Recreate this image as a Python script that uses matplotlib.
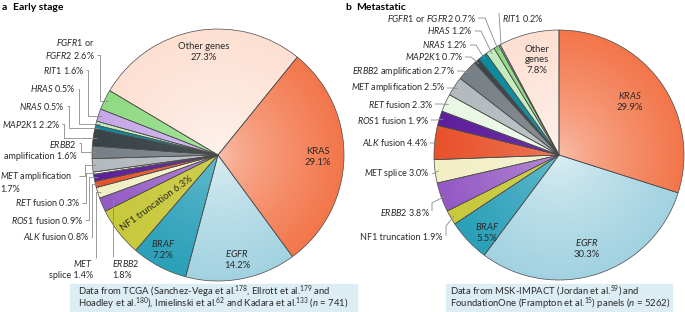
import numpy as np
import matplotlib.pyplot as plt
from matplotlib.colors import to_rgb
from matplotlib.patches import Rectangle

plt.rcParams['font.family'] = 'Lato'
plt.rcParams['mathtext.fontset'] = 'custom'
plt.rcParams['mathtext.rm'] = 'Lato'
plt.rcParams['mathtext.it'] = 'Lato:italic'
plt.rcParams['mathtext.bf'] = 'Lato:bold'

# data (percent of patients)
genes_a = ['KRAS', 'EGFR', 'BRAF', 'NF1 truncation', 'ERBB2', 'MET splice', 'ALK fusion',
           'ROS1 fusion', 'RET fusion', 'MET amplification', 'ERBB2 amplification', 'MAP2K1',
           'NRAS', 'HRAS', 'RIT1', 'FGFR1 or FGFR2', 'Other genes']
pct_a = [29.1, 14.2, 7.2, 6.3, 1.8, 1.4, 0.8, 0.9, 0.3, 1.7, 1.6, 2.2, 0.5, 0.5, 1.6, 2.6, 27.3]

genes_b = ['KRAS', 'EGFR', 'BRAF', 'NF1 truncation', 'ERBB2', 'MET splice', 'ALK fusion',
           'ROS1 fusion', 'RET fusion', 'MET amplification', 'ERBB2 amplification', 'MAP2K1',
           'NRAS', 'HRAS', 'FGFR1 or FGFR2', 'RIT1', 'Other genes']
pct_b = [29.9, 30.3, 5.5, 1.9, 3.8, 3.0, 4.4, 1.9, 2.3, 2.5, 2.7, 0.7, 1.2, 1.2, 0.7, 0.2, 7.8]

# colour, lightening towards the centre
colors = {
    'KRAS': ('#f3764a', 0.55), 'EGFR': ('#a2d2e1', 0.65), 'BRAF': ('#2aa0b9', 0.3),
    'NF1 truncation': ('#c9c93e', 0.1), 'ERBB2': ('#9459c4', 0.35), 'MET splice': ('#f2efc4', 0.3),
    'ALK fusion': ('#e8522a', 0.25), 'ROS1 fusion': ('#5e1f9c', 0.1), 'RET fusion': ('#eaf7e4', 0.3),
    'MET amplification': ('#b3b9bd', 0.2), 'ERBB2 amplification': ('#778086', 0.15),
    'MAP2K1': ('#3a4347', 0.08), 'NRAS': ('#0a8a9f', 0.1), 'HRAS': ('#c3ebbd', 0.25),
    'RIT1': ('#c6a8e8', 0.25), 'FGFR1 or FGFR2': ('#8fdb83', 0.25), 'Other genes': ('#fde0d2', 0.65),
}

SYMS = {'KRAS', 'EGFR', 'BRAF', 'ERBB2', 'MET', 'ALK', 'ROS1', 'RET', 'MAP2K1', 'NRAS',
        'HRAS', 'RIT1', 'FGFR1', 'FGFR2'}

H = 312
fig = plt.figure(figsize=(6.85, 3.12), dpi=100)
ax = fig.add_axes([0, 0, 1, 1])
FS = 6.5
TC = '#2a2a2a'


def label(gene, pct, brk=None):
    words = gene.split()
    out = [r'$\mathit{%s}$' % w if w in SYMS else w for w in words]
    txt = ''
    for i, w in enumerate(out):
        txt += w
        if i < len(out) - 1:
            txt += '\n' if brk == i + 1 else ' '
    return txt + ('\n' if brk == len(out) else ' ') + '%.1f%%' % pct


def draw_pie(genes, pct, cx, cy, r, start):
    cy = H - cy
    wedges, _ = ax.pie(pct, center=(cx, cy), radius=r, startangle=start, counterclock=False,
                       colors=[colors[g][0] for g in genes],
                       wedgeprops=dict(edgecolor='#4a4a4a', linewidth=0.5))
    n = 200
    yy, xx = np.mgrid[-1:1:n * 1j, -1:1:n * 1j]
    t = np.clip(np.sqrt(xx ** 2 + yy ** 2), 0, 1)[..., None] ** 0.7
    for w, g in zip(wedges, genes):
        base = np.array(to_rgb(colors[g][0]))
        inner = base + (1 - base) * colors[g][1]
        img = inner * (1 - t) + base * t
        im = ax.imshow(img, extent=[cx - r, cx + r, cy - r, cy + r], origin='lower',
                       interpolation='bilinear', zorder=1.5)
        im.set_clip_path(w)
        w.set_facecolor('none')
        w.set_zorder(2)
    # mid angles
    ang = {}
    a0 = start
    for g, p in zip(genes, pct):
        a1 = a0 - p * 3.6
        ang[g] = np.deg2rad((a0 + a1) / 2)
        a0 = a1
    return ang


def leaders(genes, pct, ang, cx, cy, r, layout, bracket):
    cy = H - cy
    for g, p in zip(genes, pct):
        if g not in layout:
            continue
        L = layout[g]
        x, y = L['xy']
        ax.text(x, H - y, label(g, p, L.get('brk')), ha=L['ha'], ma=L['ha'], va='center',
                fontsize=FS, color=TC, linespacing=1.2, zorder=5)
        frac = L.get('frac', 0.97)
        tx = cx + frac * r * np.cos(ang[g])
        ty = cy + frac * r * np.sin(ang[g])
        pts = [(px, H - py) for px, py in L['pts']]
        if bracket:
            pts += [(pts[-1][0], ty)]
        pts += [(tx, ty)]
        xs, ys = zip(*pts)
        ax.plot(xs, ys, color='#8a8a8a', lw=0.6, zorder=3, solid_capstyle='butt')


# ---- a: early stage
ang_a = draw_pie(genes_a, pct_a, 218, 155, 126, 51)
layout_a = {
    'FGFR1 or FGFR2': dict(xy=(95, 49), ha='right', brk=2, pts=[(97, 55), (100, 55)]),
    'RIT1': dict(xy=(84, 70), ha='right', pts=[(86, 70), (88, 70)]),
    'HRAS': dict(xy=(76, 89), ha='right', pts=[(78, 89), (79, 89)]),
    'NRAS': dict(xy=(65, 106), ha='right', pts=[(67, 106), (69, 106)]),
    'MAP2K1': dict(xy=(60, 124), ha='right', pts=[(62, 124), (64, 124)]),
    'ERBB2 amplification': dict(xy=(77, 150), ha='right', brk=1, pts=[(79, 143), (81, 143)]),
    'MET amplification': dict(xy=(0, 182), ha='left', brk=2, pts=[(79, 176), (85, 176)]),
    'RET fusion': dict(xy=(80, 203), ha='right', pts=[(82, 203), (86, 203)]),
    'ROS1 fusion': dict(xy=(83, 220), ha='right', pts=[(85, 220), (89, 220)]),
    'ALK fusion': dict(xy=(89, 237), ha='right', pts=[(91, 237), (92.5, 237)]),
    'MET splice': dict(xy=(93, 269), ha='right', brk=1, pts=[(96, 258)]),
    'ERBB2': dict(xy=(112, 269), ha='left', brk=1, pts=[(113, 257)], frac=0.9),
}
leaders(genes_a, pct_a, ang_a, 218, 155, 126, layout_a, True)

inside_a = {'Other genes': (204, 52, 0, False), 'KRAS': (318, 157, 0, False),
            'EGFR': (237, 259, 0, True), 'BRAF': (163, 249, 0, True),
            'NF1 truncation': (157, 203, 36, False)}
for g, p in zip(genes_a, pct_a):
    if g in inside_a:
        x, y, rot, br = inside_a[g]
        if g == 'NF1 truncation':
            s = '%s %.1f%%' % (g, p)
        elif br:
            s = r'$\mathit{%s}$' % g + '\n%.1f%%' % p
        else:
            s = '%s\n%.1f%%' % (g, p)
        ax.text(x, H - y, s, ha='center', va='center', fontsize=FS + 0.3, rotation=rot,
                color=TC, linespacing=1.2, zorder=5)

# ---- b: metastatic
ang_b = draw_pie(genes_b, pct_b, 559, 155, 125, 90)
layout_b = {
    'FGFR1 or FGFR2': dict(xy=(476, 18), ha='right', pts=[(478, 18), (485, 18)]),
    'RIT1': dict(xy=(502, 18), ha='left', pts=[(499, 13)]),
    'HRAS': dict(xy=(473, 31), ha='right', pts=[(475, 31), (481, 31)]),
    'NRAS': dict(xy=(468, 45), ha='right', pts=[(470, 45), (476, 45)]),
    'MAP2K1': dict(xy=(463, 57), ha='right', pts=[(465, 57), (471, 57)]),
    'ERBB2 amplification': dict(xy=(455, 71), ha='right', pts=[(457, 71), (462, 71)]),
    'MET amplification': dict(xy=(445, 88), ha='right', pts=[(447, 88), (452, 88)]),
    'RET fusion': dict(xy=(433, 104), ha='right', pts=[(435, 104), (441, 104)]),
    'ROS1 fusion': dict(xy=(429, 120), ha='right', pts=[(431, 120), (436, 120)]),
    'ALK fusion': dict(xy=(428, 143), ha='right', pts=[(430, 143)]),
    'MET splice': dict(xy=(430, 174), ha='right', pts=[(432, 174)]),
    'ERBB2': dict(xy=(430, 213), ha='right', pts=[(432, 211), (432, 203)]),
    'NF1 truncation': dict(xy=(443, 238), ha='right', pts=[(446, 236), (446, 226)]),
}
leaders(genes_b, pct_b, ang_b, 559, 155, 125, layout_b, False)

inside_b = {'Other genes': (537, 60), 'KRAS': (630, 101), 'EGFR': (587, 248), 'BRAF': (487, 232)}
for g, p in zip(genes_b, pct_b):
    if g in inside_b:
        x, y = inside_b[g]
        if g == 'Other genes':
            s = 'Other\ngenes\n%.1f%%' % p
        else:
            s = r'$\mathit{%s}$' % g + '\n%.1f%%' % p
        ax.text(x, H - y, s, ha='center', va='center', fontsize=FS + 0.3, color=TC,
                linespacing=1.2, zorder=5)

# panel titles
ax.text(2, H - 8, 'a', fontsize=7.5, weight='bold', va='center')
ax.text(13, H - 8, 'Early stage', fontsize=7.5, weight='bold', va='center')
ax.text(345, H - 8, 'b', fontsize=7.5, weight='bold', va='center')
ax.text(356, H - 8, 'Metastatic', fontsize=7.5, weight='bold', va='center')

# source boxes
ax.add_patch(Rectangle((70, H - 311), 287, 27, color='#dcedf3', zorder=1))
ax.add_patch(Rectangle((446, H - 311), 226, 27, color='#dcedf3', zorder=1))
sup = lambda s: r'$^{\mathregular{%s}}$' % s
src_a = ['Data from TCGA (Sanchez-Vega et al.' + sup(178) + ', Ellrott et al.' + sup(179) + ' and',
         'Hoadley et al.' + sup(180) + '), Imielinski et al.' + sup(62) + ' and Kadara et al.'
         + sup(133) + r' ($\mathit{n}$ = 741)']
src_b = ['Data from MSK-IMPACT (Jordan et al.' + sup(59) + ') and',
         'FoundationOne (Frampton et al.' + sup(15) + r') panels ($\mathit{n}$ = 5262)']
for i in range(2):
    ax.text(78, H - 294.5 - 12 * i, src_a[i], fontsize=FS + 0.3, va='baseline', color=TC)
    ax.text(450, H - 294.5 - 12 * i, src_b[i], fontsize=FS + 0.3, va='baseline', color=TC)

ax.set_xlim(0, 685)
ax.set_ylim(0, H)
ax.set_aspect('auto')
ax.axis('off')
fig.savefig('out.png', dpi=100)
